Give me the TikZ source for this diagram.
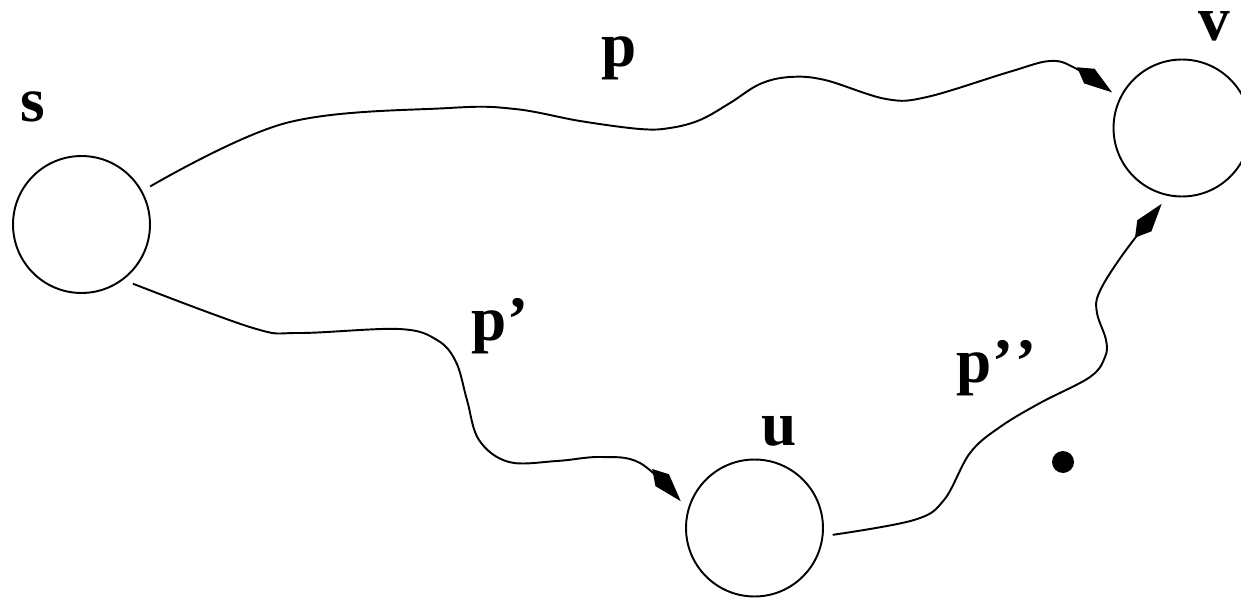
\documentclass[tikz,border=0pt]{standalone}
\usepackage{fontspec}
\setmainfont{Liberation Serif}
\usetikzlibrary{arrows.meta}

\begin{document}
\begin{tikzpicture}[x=0.02cm, y=-0.02cm, >={Kite[length=0.86cm, width=0.36cm, inset=0.3cm]}, line width=1.1pt]
    \tikzset{
        vertex/.style={circle, draw, minimum size=2.74cm, inner sep=0pt, outer sep=0.2cm},
        lbl/.style={font=\fontsize{36}{40}\selectfont\bfseries, inner sep=0pt, anchor=base},
        route/.style={->, line join=round, smooth, tension=0.6},
        blob/.style={circle, fill, minimum size=0.44cm, inner sep=0pt}
    }

    \clip (0,0) rectangle (1241,598);

    \node[vertex] (s) at (81.5,224.5) {};
    \node[vertex] (u) at (754.5,528) {};
    \node[vertex] (v) at (1182,128) {};
    \node[blob] (dot) at (1063,462) {};

    \node[lbl] (s label) at (33,122) {s};
    \node[lbl] (u label) at (779,445) {u};
    \node[lbl] (v label) at (1214,41) {v};
    \node[lbl] (p label) at (619,67) {p};
    \node[lbl, anchor=base west] (p1 label) at (471,340) {p’};
    \node[lbl, anchor=base west] (p2 label) at (956,382) {p’\kern0.03em’};

    \draw[route] plot coordinates {(s.29) (286,123) (449,108) (515,109) (580,121)
        (640,129) (670,128) (700,120) (730,103) (760,84) (790,77) (825,80)
        (886,99) (927,97) (1009,72) (1050,61) (1075,68) (v.153)};

    \draw[route] plot coordinates {(s.-49) (253,328) (299,333) (399,329) (437,340)
        (456,362) (467,400) (479,440) (509,462) (557,461) (600,457) (640,463) (u.160)};

    \draw[route] plot coordinates {(u.-5) (914,520) (944,500) (970,453) (1000,427)
        (1040,403) (1090,377) (1105,357) (1106,340) (1097,313) (1099,293)
        (1121,257) (v.-105)};

\end{tikzpicture}
\end{document}
